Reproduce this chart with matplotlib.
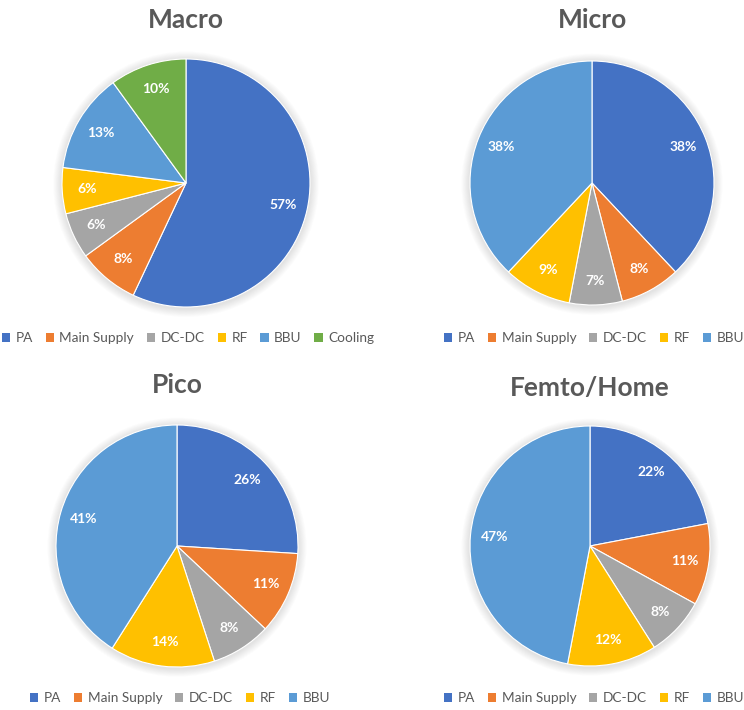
import matplotlib
matplotlib.use("Agg")
import matplotlib.pyplot as plt
from matplotlib.patches import Circle, Patch

# ---- data ----
titles = ["Macro", "Micro", "Pico", "Femto/Home"]
macro_labels = ["PA", "Main Supply", "DC-DC", "RF", "BBU", "Cooling"]
macro_values = [57, 8, 6, 6, 13, 10]
micro_labels = ["PA", "Main Supply", "DC-DC", "RF", "BBU"]
micro_values = [38, 8, 7, 9, 38]
pico_labels = ["PA", "Main Supply", "DC-DC", "RF", "BBU"]
pico_values = [26, 11, 8, 14, 41]
femto_labels = ["PA", "Main Supply", "DC-DC", "RF", "BBU"]
femto_values = [22, 11, 8, 12, 47]

colors = {"PA": "#4472C4", "Main Supply": "#ED7D31", "DC-DC": "#A5A5A5",
          "RF": "#FFC000", "BBU": "#5B9BD5", "Cooling": "#70AD47"}

W, H = 744, 710
fig = plt.figure(figsize=(W / 100, H / 100), dpi=100)
fig.patch.set_facecolor("white")
plt.rcParams["font.family"] = ["Lato", "DejaVu Sans"]

# (center x, center y (from top), radius) in pixels
layout = [
    (186, 183, 124),
    (592, 183, 122),
    (177, 546, 121),
    (590, 546, 120),
]
title_y = [20, 20, 385, 388]
legend_pos = [(188, 338), (594, 338), (180, 698), (594, 698)]
datasets = [(macro_labels, macro_values), (micro_labels, micro_values),
            (pico_labels, pico_values), (femto_labels, femto_values)]

for (cx, cy, r), ty, (lx, ly), (labs, vals), title in zip(layout, title_y, legend_pos, datasets, titles):
    pad = 1.12
    size = 2 * r * pad
    ax = fig.add_axes([(cx - r * pad) / W, (H - cy - r * pad) / H, size / W, size / H])
    wedges, _, autotexts = ax.pie(
        vals, colors=[colors[l] for l in labs], startangle=90, counterclock=False,
        autopct="%d%%", pctdistance=0.8, radius=1.0,
        wedgeprops=dict(linewidth=0.8, edgecolor="white"),
        textprops=dict(color="white", fontsize=10, fontweight="bold"))
    ax.set_xlim(-pad, pad)
    ax.set_ylim(-pad, pad)
    ax.set_aspect("equal")
    ax.axis("off")
    # soft shadow
    for k in range(10):
        ax.add_patch(Circle((0.0, -0.01), 1.0 + 0.007 * (k + 1), color="#7f7f7f",
                            alpha=0.018, lw=0, zorder=0))
    for w in wedges:
        w.set_zorder(2)
    for t in autotexts:
        t.set_zorder(3)
    fig.text(cx / W, 1 - ty / H, title, ha="center", va="center",
             fontsize=19, fontweight="bold", color="#595959")
    handles = [Patch(facecolor=colors[l], edgecolor="none") for l in labs]
    fig.legend(handles, labs, loc="center", bbox_to_anchor=(lx / W, 1 - ly / H),
               ncol=len(labs), frameon=False, fontsize=9.8, handlelength=0.6,
               handleheight=0.6, handletextpad=0.4, columnspacing=0.95,
               labelcolor="#595959", borderpad=0.1)

fig.savefig("out.png", dpi=100, facecolor="white")
